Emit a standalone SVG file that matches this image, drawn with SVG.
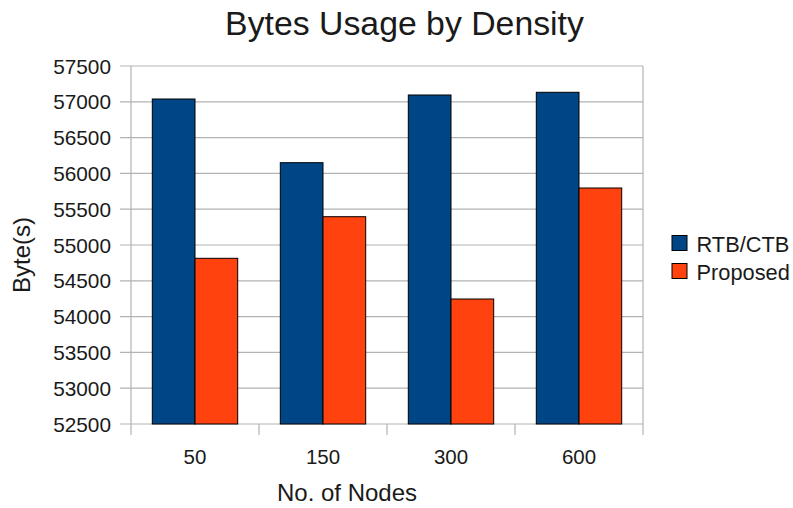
<svg xmlns="http://www.w3.org/2000/svg" width="793" height="508" viewBox="0 0 793 508">
<style>
text{font-family:"Liberation Sans",Arial,sans-serif;fill:#1a1a1a}
.grid{stroke:#b3b3b3;stroke-width:1.2;fill:none}
.ylab{font-size:20.8px;text-anchor:end}
.xlab{font-size:20.5px;text-anchor:middle}
.s1{fill:#004586;stroke:#000;stroke-width:1}
.s2{fill:#ff420e;stroke:#000;stroke-width:1}
</style>
<rect width="793" height="508" fill="#fff"/>
<text x="404.5" y="35" font-size="33.8" text-anchor="middle">Bytes Usage by Density</text>
<g id="grid">
<path class="grid" d="M120 66H643M120 101.8H643M120 137.6H643M120 173.4H643M120 209.2H643M120 245H643M120 280.8H643M120 316.6H643M120 352.4H643M120 388.2H643M120 424H643M131 66V435M643 66V435M259 424V435M387 424V435M515 424V435"/>
</g>
<g id="yaxis">
<text class="ylab" x="111" y="73.5">57500</text>
<text class="ylab" x="111" y="109.3">57000</text>
<text class="ylab" x="111" y="145.1">56500</text>
<text class="ylab" x="111" y="180.9">56000</text>
<text class="ylab" x="111" y="216.7">55500</text>
<text class="ylab" x="111" y="252.5">55000</text>
<text class="ylab" x="111" y="288.3">54500</text>
<text class="ylab" x="111" y="324.1">54000</text>
<text class="ylab" x="111" y="359.9">53500</text>
<text class="ylab" x="111" y="395.7">53000</text>
<text class="ylab" x="111" y="431.5">52500</text>
</g>
<g id="xaxis">
<text class="xlab" x="195" y="464">50</text>
<text class="xlab" x="323" y="464">150</text>
<text class="xlab" x="451" y="464">300</text>
<text class="xlab" x="579" y="464">600</text>
</g>
<text x="347" y="501" font-size="24" text-anchor="middle">No. of Nodes</text>
<text transform="translate(30,255) rotate(-90)" font-size="24" text-anchor="middle">Byte(s)</text>
<g id="series-rtb">
<rect class="s1" x="152.3" y="99" width="42.7" height="325"/>
<rect class="s1" x="280.3" y="162.7" width="42.7" height="261.3"/>
<rect class="s1" x="408.3" y="95" width="42.7" height="329"/>
<rect class="s1" x="536.3" y="92.3" width="42.7" height="331.7"/>
</g>
<g id="series-proposed">
<rect class="s2" x="195" y="258.3" width="42.7" height="165.7"/>
<rect class="s2" x="323" y="216.7" width="42.7" height="207.3"/>
<rect class="s2" x="451" y="299" width="42.7" height="125"/>
<rect class="s2" x="579" y="188" width="42.7" height="236"/>
</g>
<g id="legend">
<rect class="s1" x="672" y="235.5" width="15" height="15"/>
<text x="696.5" y="251.5" font-size="21.8">RTB/CTB</text>
<rect class="s2" x="672" y="263.5" width="15" height="15"/>
<text x="696.5" y="279.5" font-size="21.8">Proposed</text>
</g>
</svg>
